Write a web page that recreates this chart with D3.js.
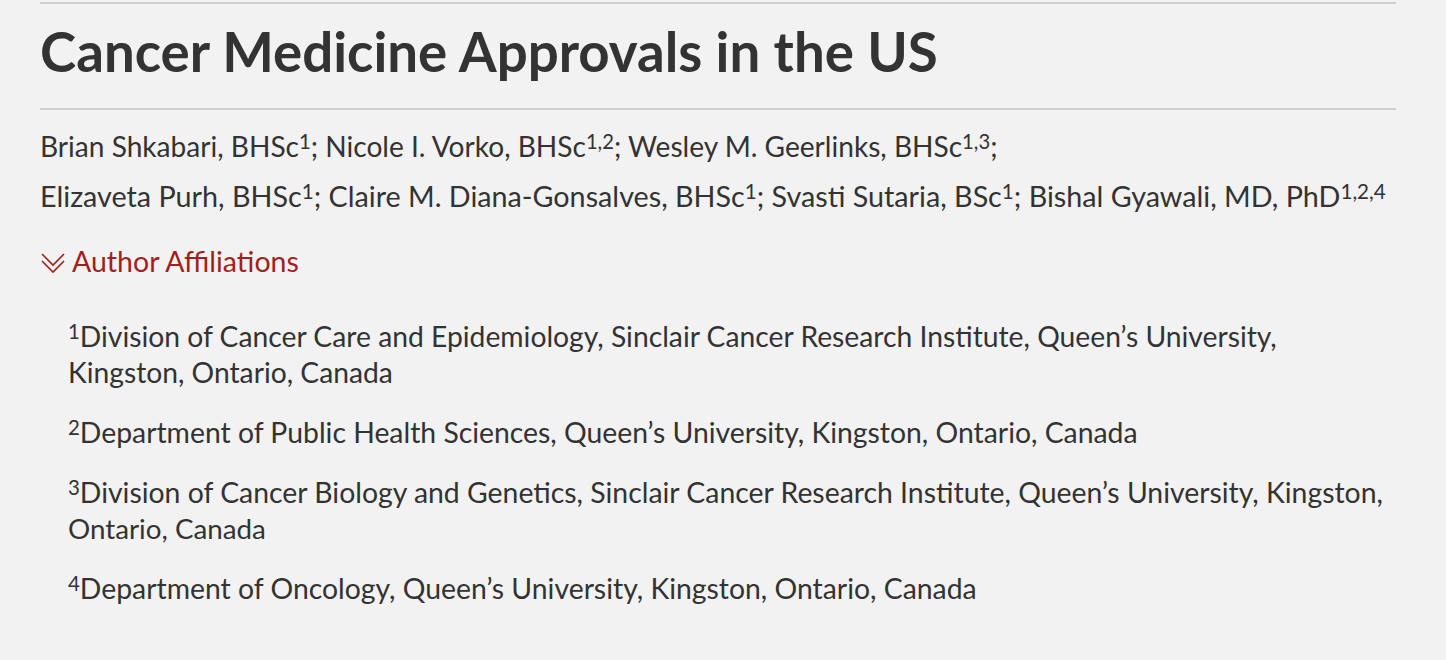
<!DOCTYPE html>
<html><head><meta charset="utf-8">
<script src="https://cdn.jsdelivr.net/npm/d3@7"></script>
<style>body{margin:0;background:#f2f2f2;}svg{display:block;}</style>
</head><body>
<script>
const title = "Cancer Medicine Approvals in the US";
const authorLines = [
  [["Brian Shkabari, BHSc",""],["1","sup"],["; Nicole I. Vorko, BHSc",""],["1,2","sup"],["; Wesley M. Geerlinks, BHSc",""],["1,3","sup"],[";",""]],
  [["Elizaveta Purh, BHSc",""],["1","sup"],["; Claire M. Diana-Gonsalves, BHSc",""],["1","sup"],["; Svasti Sutaria, BSc",""],["1","sup"],["; Bishal Gyawali, MD, PhD",""],["1,2,4","sup"]]
];
const authorTargets = [[157, 958],[207, 1346]];
const linkLabel = "Author Affiliations";
const affilLines = [
  [["1","sup"],["Division of Cancer Care and Epidemiology, Sinclair Cancer Research Institute, Queen’s University,",""]],
  [["Kingston, Ontario, Canada",""]],
  [["2","sup"],["Department of Public Health Sciences, Queen’s University, Kingston, Ontario, Canada",""]],
  [["3","sup"],["Division of Cancer Biology and Genetics, Sinclair Cancer Research Institute, Queen’s University, Kingston,",""]],
  [["Ontario, Canada",""]],
  [["4","sup"],["Department of Oncology, Queen’s University, Kingston, Ontario, Canada",""]]
];
const affilTargets = [[347,1209],[383,325],[443,1070],[503,1316],[539,198],[599,909]];

const W=1446,H=660;
const svg=d3.select("body").append("svg").attr("width",W).attr("height",H);
svg.append("rect").attr("width",W).attr("height",H).attr("fill","#f2f2f2");
const font="Lato, 'Open Sans', sans-serif";
svg.append("line").attr("x1",40).attr("x2",1396).attr("y1",3).attr("y2",3).attr("stroke","#cfcfcf").attr("stroke-width",2);
svg.append("line").attr("x1",40).attr("x2",1396).attr("y1",109).attr("y2",109).attr("stroke","#cfcfcf").attr("stroke-width",2);

function fit(t, target, fs){
  t.attr("font-size",fs);
  const w=t.node().getComputedTextLength();
  if(w>0) t.attr("font-size",fs*target/w);
}
const tt=svg.append("text").attr("x",40).attr("y",72).attr("font-family",font).attr("font-weight",700).attr("fill","#333").text(title);
fit(tt,898,50);

function rich(x,y,parts,target,color){
  const t=svg.append("text").attr("x",x).attr("y",y).attr("font-family",font).attr("fill",color);
  parts.forEach(([s,k])=>{
    const sp=t.append("tspan").text(s);
    if(k==="sup") sp.attr("font-size","0.72em").attr("baseline-shift","40%");
  });
  fit(t,target,26);
}
authorLines.forEach((l,i)=>rich(40,authorTargets[i][0],l,authorTargets[i][1],"#333"));
affilLines.forEach((l,i)=>rich(68,affilTargets[i][0],l,affilTargets[i][1],"#333"));

const red="#a31f1a";
const g=svg.append("g").attr("stroke",red).attr("fill","none").attr("stroke-width",1.6);
g.append("path").attr("d","M42,254 L53,265 L64,254");
g.append("path").attr("d","M42,261 L53,272 L64,261");
const lt=svg.append("text").attr("x",72).attr("y",272).attr("font-family",font).attr("fill",red).text(linkLabel);
fit(lt,227,26);
</script>
</body></html>
